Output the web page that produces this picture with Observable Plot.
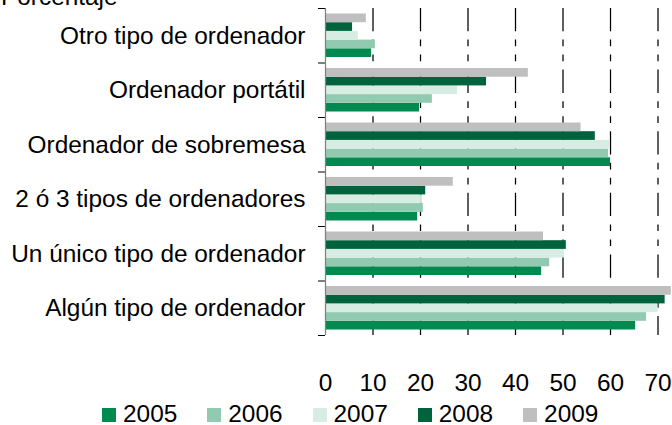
<!DOCTYPE html>
<html><head><meta charset="utf-8">
<script src="https://cdn.jsdelivr.net/npm/d3@7"></script>
<script src="https://cdn.jsdelivr.net/npm/@observablehq/plot@0.6"></script>
<style>
html,body{margin:0;padding:0;background:#fff;overflow:hidden}
#wrap{position:relative;width:672px;height:425px;overflow:hidden;font-family:"Liberation Sans",Arial,sans-serif;color:#000;background:#fff}
#title{position:absolute;left:1px;top:-15px;font-size:24.4px;line-height:24px;white-space:nowrap;z-index:2}
#chart{position:absolute;left:0;top:0;z-index:1}
#legend{position:absolute;left:102px;top:401.5px;display:flex;align-items:flex-end;font-size:24.4px;line-height:24px;white-space:nowrap}
.item{display:flex;align-items:flex-end;margin-right:30px}
.sw{width:14px;height:14px;margin-right:7px;margin-bottom:3.5px}
</style></head><body><div id="wrap"><div id="chart"></div><div id="title">Porcentaje</div><div id="legend"></div></div>
<script>
const categories = ["Otro tipo de ordenador", "Ordenador portátil", "Ordenador de sobremesa", "2 ó 3 tipos de ordenadores", "Un único tipo de ordenador", "Algún tipo de ordenador"];
const years = ["2005", "2006", "2007", "2008", "2009"];
const v2005 = [9.7, 19.8, 60.0, 19.4, 45.5, 65.3];
const v2006 = [10.5, 22.5, 59.6, 20.6, 47.2, 67.6];
const v2007 = [6.9, 27.8, 60.0, 20.2, 50.3, 70.0];
const v2008 = [5.7, 33.9, 56.8, 21.1, 50.7, 71.5];
const v2009 = [8.6, 42.7, 53.8, 26.9, 45.9, 72.8];
const colors = ["#008A50", "#92CAB1", "#D7ECE2", "#00633E", "#BFBFBF"];
const xTicks = [0, 10, 20, 30, 40, 50, 60, 70];

const series = [v2005, v2006, v2007, v2008, v2009];
const G = 6.264, pad = (G - 5) / 2;
const rows = [];
categories.forEach((c, g) => years.forEach((yr, i) => {
  const k = years.length - 1 - i;
  rows.push({category: c, year: yr, value: series[i][g], y1: g * G + pad + k, y2: g * G + pad + k + 1});
}));
const centers = categories.map((c, g) => ({category: c, y: g * G + G / 2}));
const bounds = d3.range(categories.length + 1).map(g => g * G);

const plot = Plot.plot({
  width: 672, height: 400, marginTop: 8, marginBottom: 65, marginLeft: 325, marginRight: 0,
  style: {fontFamily: "Liberation Sans, Arial, sans-serif", fontSize: "24.4px", color: "#000", background: "transparent"},
  x: {domain: [0, 73.05], ticks: xTicks, tickSize: 0, tickPadding: 38, tickFormat: d => String(d), label: null},
  y: {domain: [categories.length * G, 0], ticks: bounds, tickSize: 7, tickFormat: () => "", label: null},
  color: {domain: years, range: colors},
  marks: [
    Plot.ruleX(xTicks.filter(d => d > 0), {stroke: "#000", strokeWidth: 1.25, strokeDasharray: "23.3,8.3,6.7,8.3,6.7,8.3"}),
    Plot.rectX(rows, {x1: 0, x2: "value", y1: "y1", y2: "y2", fill: "year"}),
    Plot.ruleX([0], {stroke: "#808080", strokeWidth: 1.25}),
    Plot.text(centers, {x: 0, y: "y", text: "category", textAnchor: "end", dx: -20, fontSize: 24.4, fill: "#000"})
  ]
});
document.getElementById("chart").appendChild(plot);

const legend = document.getElementById("legend");
years.forEach((yr, i) => {
  const item = document.createElement("div");
  item.className = "item";
  const sw = document.createElement("div");
  sw.className = "sw";
  sw.style.background = colors[i];
  const t = document.createElement("span");
  t.textContent = yr;
  item.appendChild(sw);
  item.appendChild(t);
  legend.appendChild(item);
});
</script></body></html>
